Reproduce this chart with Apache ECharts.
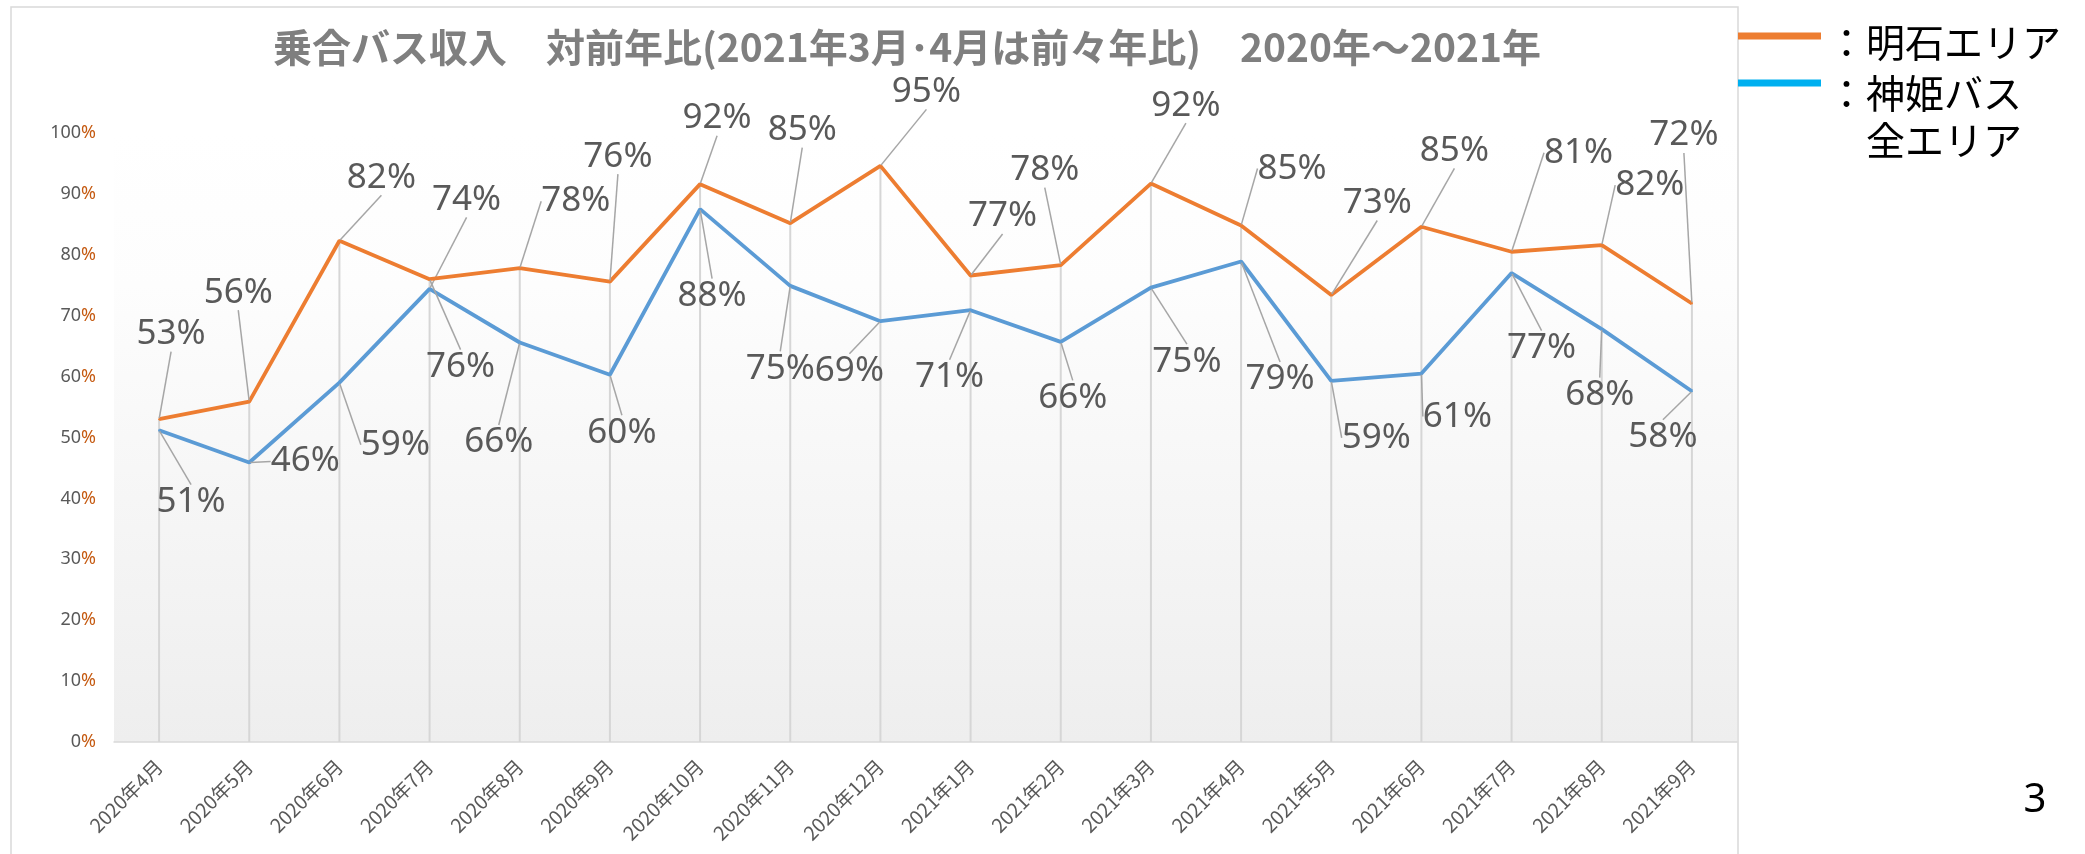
<!DOCTYPE html>
<html><head><meta charset="utf-8">
<script src="https://cdn.jsdelivr.net/npm/echarts@6/dist/echarts.min.js"></script>
<style>html,body{margin:0;padding:0;background:#fff}#chart{width:2085px;height:854px}</style>
</head><body><div id="chart"></div><script>
// ---- data ----
const categories = ['2020年4月','2020年5月','2020年6月','2020年7月','2020年8月','2020年9月','2020年10月','2020年11月','2020年12月','2021年1月','2021年2月','2021年3月','2021年4月','2021年5月','2021年6月','2021年7月','2021年8月','2021年9月'];
const akashiValues = [53, 55.9, 82.3, 76, 77.8, 75.6, 91.6, 85.2, 94.6, 76.6, 78.3, 91.7, 84.8, 73.4, 84.6, 80.5, 81.6, 72];
const shinkiValues = [51.2, 45.9, 59, 74.4, 65.6, 60.3, 87.5, 74.9, 69.1, 70.9, 65.7, 74.6, 78.9, 59.3, 60.5, 77, 67.8, 57.6];
const seriesNames = ['明石エリア', '神姫バス全エリア'];
const titleText = '乗合バス収入\u3000対前年比(2021年3月･4月は前々年比)\u30002020年～2021年';

// ---- label placement (pixel offsets of each data label from its point) ----
const akashiLabelOffsets = [[12,-85],[-11,-109],[42,-63],[31,88],[56,-67],[8,-125],[17,-66],[12,-93],[46,-74],[32,-59],[-16,-95],[35,-78],[51,-57],[46,-92],[33,-76],[67,-99],[48,-60],[-8,-168]];
const shinkiLabelOffsets = [[32,72],[56,-1],[56,62],[37,-89],[-21,100],[12,58],[12,87],[-10,83],[-31,50],[-21,67],[12,56],[36,74],[39,118],[45,57],[36,43],[30,75],[-2,66],[-29,46]];

const dropLineValues = akashiValues.map((v, i) => Math.max(v, shinkiValues[i]));

const chart = echarts.init(document.getElementById('chart'), null, {renderer: 'canvas'});

function makeLayout(offsets) {
  return function (p) {
    const o = offsets[p.dataIndex];
    const cx = p.rect.x + p.rect.width / 2;
    const cy = p.rect.y + p.rect.height / 2;
    return {x: cx + o[0], y: cy + o[1], align: 'center', verticalAlign: 'middle'};
  };
}

const labelStyle = {
  show: true,
  fontSize: 35,
  fontFamily: 'Noto Sans',
  color: '#595959',
  padding: [2, 4],
  formatter: p => Math.round(p.value) + '%'
};
const leader = {show: true, lineStyle: {color: '#a6a6a6', width: 1.5}};

const option = {
  animation: false,
  backgroundColor: '#ffffff',
  title: {
    text: titleText,
    left: 907,
    top: 27,
    textAlign: 'center',
    padding: 0,
    textStyle: {fontSize: 39, fontWeight: 'bold', color: '#7f7f7f', fontFamily: 'Noto Sans CJK JP', lineHeight: 40}
  },
  grid: {
    left: 114, right: 348, top: 133, bottom: 112,
    show: true, borderWidth: 0,
    backgroundColor: new echarts.graphic.LinearGradient(0, 0, 0, 1, [
      {offset: 0, color: '#ffffff'}, {offset: 0.25, color: '#fdfdfd'}, {offset: 1, color: '#eeeeee'}
    ])
  },
  xAxis: {
    type: 'category',
    data: categories,
    boundaryGap: true,
    axisLine: {show: true, lineStyle: {color: '#d9d9d9', width: 1.5}},
    axisTick: {show: false},
    splitLine: {show: false},
    axisLabel: {rotate: 45, margin: 21, fontSize: 19.5, color: '#595959', fontFamily: 'Noto Sans CJK JP', interval: 0}
  },
  yAxis: {
    type: 'value',
    min: 0, max: 100, interval: 10,
    axisLine: {show: false},
    axisTick: {show: false},
    splitLine: {show: false},
    axisLabel: {
      margin: 18,
      formatter: v => '{n|' + v + '}{p|%}',
      rich: {
        n: {fontSize: 18, color: '#595959', fontFamily: 'Noto Sans'},
        p: {fontSize: 18, color: '#c55a11', fontFamily: 'Noto Sans'}
      }
    }
  },
  series: [
    {
      name: 'drop',
      type: 'bar',
      data: dropLineValues,
      barWidth: 2,
      itemStyle: {color: '#d6d6d6'},
      silent: true,
      z: 1
    },
    {
      name: seriesNames[0],
      type: 'line',
      data: akashiValues,
      showSymbol: true,
      symbol: 'circle',
      symbolSize: 2,
      itemStyle: {color: '#ed7d31'},
      lineStyle: {color: '#ed7d31', width: 3.8},
      label: labelStyle,
      labelLine: leader,
      labelLayout: makeLayout(akashiLabelOffsets),
      emphasis: {disabled: true},
      z: 4
    },
    {
      name: seriesNames[1],
      type: 'line',
      data: shinkiValues,
      showSymbol: true,
      symbol: 'circle',
      symbolSize: 2,
      itemStyle: {color: '#5b9bd5'},
      lineStyle: {color: '#5b9bd5', width: 3.8},
      label: labelStyle,
      labelLine: leader,
      labelLayout: makeLayout(shinkiLabelOffsets),
      emphasis: {disabled: true},
      z: 3
    }
  ],
  graphic: [
    {type: 'rect', silent: true, z: -10, shape: {x: 11, y: 7, width: 1727, height: 900}, style: {fill: null, stroke: '#d9d9d9', lineWidth: 1.5}},
    {type: 'rect', silent: true, shape: {x: 1738, y: 32.5, width: 83, height: 7}, style: {fill: '#ed7d31'}},
    {type: 'rect', silent: true, shape: {x: 1738, y: 79.5, width: 83, height: 7}, style: {fill: '#00b0f0'}},
    {type: 'text', silent: true, style: {x: 1827, y: 42, text: '：明石エリア', font: '39px "Noto Sans CJK JP"', fill: '#000000', verticalAlign: 'middle'}},
    {type: 'text', silent: true, style: {x: 1827, y: 93, text: '：神姫バス', font: '39px "Noto Sans CJK JP"', fill: '#000000', verticalAlign: 'middle'}},
    {type: 'text', silent: true, style: {x: 1866, y: 140, text: '全エリア', font: '39px "Noto Sans CJK JP"', fill: '#000000', verticalAlign: 'middle'}},
    {type: 'text', silent: true, style: {x: 2035, y: 801, text: '3', font: '40px "Noto Sans"', fill: '#000000', align: 'center', verticalAlign: 'middle'}}
  ]
};
chart.setOption(option);
</script></body></html>
